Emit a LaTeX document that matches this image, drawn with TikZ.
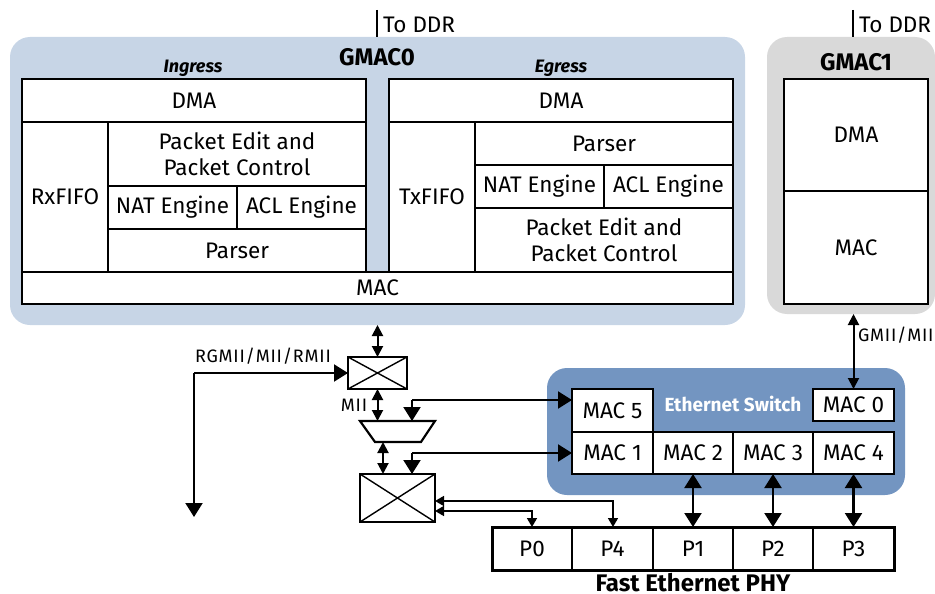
\documentclass[tikz,border=0pt]{standalone}
\usepackage{fontspec}
\setmainfont{Fira Sans}
\usetikzlibrary{arrows.meta,calc}
\definecolor{gmaczero}{HTML}{C7D5E6}
\definecolor{gmacone}{HTML}{D9D9D9}
\definecolor{swblue}{HTML}{7395C1}
\newcommand{\cellbox}[6]{\node[cellstyle,minimum width={(#4-#2)*1pt},minimum height={(#5-#3)*1pt}] (#1) at ({(#2+#4)/2},{(#3+#5)/2}) {#6};}
\newcommand{\panel}[6]{\node[panelstyle,fill=#6,minimum width={(#4-#2)*1pt},minimum height={(#5-#3)*1pt}] (#1) at ({(#2+#4)/2},{(#3+#5)/2}) {};}
\newcommand{\crossbox}[5]{\node[xboxstyle,minimum width={(#4-#2)*1pt},minimum height={(#5-#3)*1pt}] (#1) at ({(#2+#4)/2},{(#3+#5)/2}) {};
 \draw[thin line] (#1.north west) -- (#1.south east) (#1.north east) -- (#1.south west);}
\tikzset{
 x=1pt,y=-1pt,
 cellstyle/.style={draw=black,fill=white,line width=1.9pt,inner sep=0pt,outer sep=0pt,align=center,font=\fontsize{22.5}{26}\selectfont},
 panelstyle/.style={rounded corners=20pt,inner sep=0pt,outer sep=0pt},
 xboxstyle/.style={draw=black,fill=white,line width=2.2pt,inner sep=0pt,outer sep=0pt},
 thin line/.style={line width=1.4pt},
 label text/.style={inner sep=0pt,outer sep=0pt,font=\fontsize{22.5}{26}\selectfont},
 small text/.style={inner sep=0pt,outer sep=0pt,font=\fontsize{18}{20}\selectfont\addfontfeature{LetterSpace=4.4}},
 title text/.style={inner sep=0pt,outer sep=0pt,font=\fontsize{24}{26}\selectfont\bfseries},
 dirtext/.style={inner sep=0pt,outer sep=0pt,font=\fontsize{18}{20}\selectfont\bfseries\itshape},
 bigdbl/.style={line width=2.2pt,{Triangle[length=14pt,width=17pt]}-{Triangle[length=14pt,width=17pt]}},
 meddbl/.style={line width=2pt,{Triangle[length=11pt,width=11pt]}-{Triangle[length=11pt,width=11pt]}},
 bigarr/.style={line width=2pt,-{Triangle[length=14pt,width=17pt]}},
 smallarr/.style={line width=1.6pt,{Triangle[length=9pt,width=10pt]}-{Triangle[length=9pt,width=10pt]}},
}
\begin{document}
\begin{tikzpicture}
\useasboundingbox (0,0) rectangle (935,594);
% background panels
\panel{gmaczerobg}{10}{37}{745}{325}{gmaczero}
\panel{gmaconebg}{767}{37}{935}{314}{gmacone}
\panel{switchbg}{547}{368}{905}{495}{swblue}
% to DDR
\coordinate (ddrA) at (377,10);
\coordinate (ddrB) at (853,10);
\draw[line width=1.6pt] (ddrA) -- (ddrA |- gmaczerobg.north);
\draw[line width=1.6pt] (ddrB) -- (ddrB |- gmaconebg.north);
\node[label text,anchor=west] (ddrtextA) at (383,25) {To DDR};
\node[label text,anchor=west] (ddrtextB) at (859,25) {To DDR};
% titles
\node[title text] (gmaczerotitle) at (377,57) {GMAC0};
\node[title text] (gmaconetitle) at (856,62) {GMAC1};
\node[dirtext] (ingress) at (193,68) {Ingress};
\node[dirtext] (egress) at (561,68) {Egress};
% GMAC0 ingress
\cellbox{idma}{22}{79}{366}{122}{DMA}
\cellbox{rxfifo}{22}{122}{108}{272}{RxFIFO}
\cellbox{iedit}{108}{122}{366}{186}{Packet Edit and\\Packet Control}
\cellbox{inat}{108}{186}{237}{229}{NAT Engine}
\cellbox{iacl}{237}{186}{366}{229}{ACL Engine}
\cellbox{iparser}{108}{229}{366}{272}{Parser}
% GMAC0 egress
\cellbox{edma}{389}{79}{733}{122}{DMA}
\cellbox{txfifo}{389}{122}{475}{272}{TxFIFO}
\cellbox{eparser}{475}{122}{733}{165}{Parser}
\cellbox{enat}{475}{165}{604}{208}{NAT Engine}
\cellbox{eacl}{604}{165}{733}{208}{ACL Engine}
\cellbox{eedit}{475}{208}{733}{272}{Packet Edit and\\Packet Control}
\cellbox{gmaczeromac}{22}{272}{733}{304}{MAC}
% GMAC1
\cellbox{gmaconedma}{784}{79}{928}{191}{DMA}
\cellbox{gmaconemac}{784}{191}{928}{304}{MAC}
% switch
\cellbox{macfive}{572}{389}{653}{432}{MAC 5}
\cellbox{maczero}{813}{389}{894}{421}{MAC 0}
\cellbox{macone}{572}{432}{653}{474}{MAC 1}
\cellbox{mactwo}{653}{432}{733}{474}{MAC 2}
\cellbox{macthree}{733}{432}{813}{474}{MAC 3}
\cellbox{macfour}{813}{432}{894}{474}{MAC 4}
\node[inner sep=0pt,text=white,font=\fontsize{19}{20}\selectfont\bfseries] (switchtitle) at (733,404) {Ethernet Switch};
% PHY
\cellbox{pzero}{492}{527}{572}{570}{P0}
\cellbox{pfour}{572}{527}{653}{570}{P4}
\cellbox{pone}{653}{527}{733}{570}{P1}
\cellbox{ptwo}{733}{527}{813}{570}{P2}
\cellbox{pthree}{813}{527}{894}{570}{P3}
\node[draw=black,line width=3pt,inner sep=0pt,outer sep=0pt,minimum width=402pt,minimum height=43pt] (phy) at (693,548.5) {};
\node[title text,anchor=base] (phytitle) at (693,591) {Fast Ethernet PHY};
% muxes
\crossbox{swtop}{348}{357}{407}{389}
\crossbox{swbot}{360}{474}{435}{522}
\coordinate (trapnw) at (360,421);
\coordinate (trapne) at (435,421);
\coordinate (trapse) at (421,442);
\coordinate (trapsw) at (375,442);
\draw[line width=2.2pt,fill=white,line join=miter] (trapnw) -- (trapne) -- (trapse) -- (trapsw) -- cycle;
% connectors
\coordinate (rgcorner) at (194,373);
\coordinate (rgend) at (194,517);
\draw[bigarr] (rgcorner) -- (swtop.west);
\draw[bigarr] (rgcorner) -- (rgend);
\node[small text,anchor=base west] (rglabel) at (195,362) {RGMII/MII/RMII};
\coordinate (gzero) at (377.5,325);
\draw[meddbl] (gzero) -- (swtop.north);
\coordinate (trapa) at (377.5,421);
\draw[meddbl] (swtop.south) -- (trapa);
\node[small text] (miilabel) at (354,405) {MII};
\coordinate (fivecorner) at (412,400);
\coordinate (trapin) at (412,421);
\coordinate (onecorner) at (412,453);
\coordinate (swin) at (412,474);
\coordinate (fiveend) at (macfive.west |- fivecorner);
\coordinate (oneend) at (macone.west |- onecorner);
\draw[bigarr] (fivecorner) -- (trapin);
\draw[bigarr] (fivecorner) -- (fiveend);
\draw[bigarr] (onecorner) -- (swin);
\draw[bigarr] (onecorner) -- (oneend);
\coordinate (trapout) at (383,442);
\draw[meddbl] (trapout) -- (trapout |- swbot.north);
% PHY to switch
\coordinate (pzerocorner) at (532,511);
\coordinate (pfourcorner) at (613,501);
\draw[smallarr] (swbot.east |- pzerocorner) -- (pzerocorner) -- (pzerocorner |- pzero.north);
\draw[smallarr] (swbot.east |- pfourcorner) -- (pfourcorner) -- (pfourcorner |- pfour.north);
\draw[bigdbl] (mactwo.south) -- (pone.north);
\draw[bigdbl] (macthree.south) -- (ptwo.north);
\draw[bigdbl] (macfour.south) -- (pthree.north);
\coordinate (gmiitop) at (853.5,314);
\draw[meddbl] (gmiitop) -- (maczero.north);
\node[small text,anchor=west] (gmiilabel) at (858,335) {GMII/MII};
\end{tikzpicture}
\end{document}
